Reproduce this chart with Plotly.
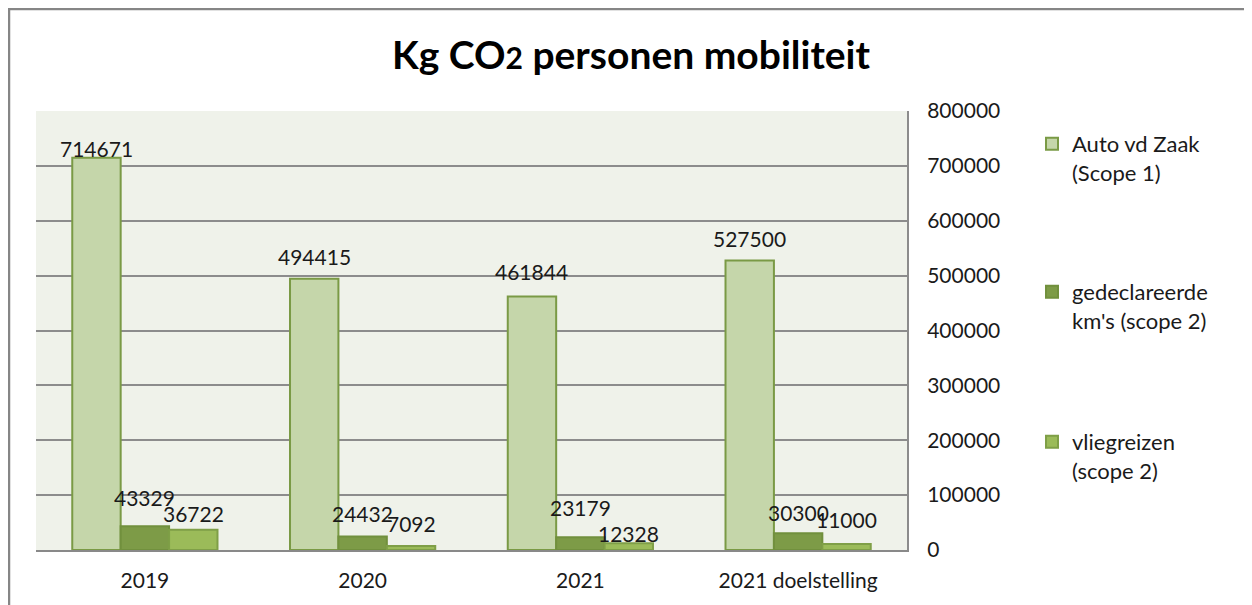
import plotly.graph_objects as go

categories = ["2019", "2020", "2021", "2021 doelstelling"]
auto_vd_zaak = [714671, 494415, 461844, 527500]
gedeclareerde_kms = [43329, 24432, 23179, 30300]
vliegreizen = [36722, 7092, 12328, 11000]
series_names = ["Auto vd Zaak<br>(Scope 1)", "gedeclareerde<br>km's (scope 2)", "vliegreizen<br>(scope 2)"]
y_ticks = [0, 100000, 200000, 300000, 400000, 500000, 600000, 700000, 800000]

FONT = "Lato"
fills = ["#C5D6AA", "#7D9B47", "#9BBB59"]
borders = ["#7A9A45", "#71903D", "#7F9F47"]
legends = ["legend", "legend2", "legend3"]
# style: how far (px) each value label's centre sits above its bar top, per series
label_lift_px = [[9, 22, 25, 22], [29, 23, 30, 21], [16, 23, 10, 24]]

# page offset of the figure (browser body margin)
OFF = 8
W, H = 1252, 605
L, R, T, B = 36 - OFF, 907 - OFF, 111 - OFF, 550 - OFF
pw, ph = R - L, B - T
BARGAP = 0.333
bar_w = pw / len(categories) * (1 - BARGAP) / 3

def px(x):
    return (x - OFF - L) / pw

def py(y):
    return (B - (y - OFF)) / ph

all_series = [auto_vd_zaak, gedeclareerde_kms, vliegreizen]
fig = go.Figure()
annotations = []
for i, (name, vals) in enumerate(zip(series_names, all_series)):
    fig.add_trace(go.Bar(
        x=categories, y=vals, name=name,
        marker=dict(color=fills[i], line=dict(color=borders[i], width=2)),
        legend=legends[i],
    ))
    for j, v in enumerate(vals):
        annotations.append(dict(
            x=j, y=v, xref="x", yref="y", text=str(v), showarrow=False,
            xshift=(i - 1) * bar_w, yshift=label_lift_px[i][j],
            xanchor="center", yanchor="middle",
            font=dict(family=FONT, size=21, color="#1a1a1a"),
        ))

leg_common = dict(font=dict(family=FONT, size=22, color="#1a1a1a"), bgcolor="rgba(0,0,0,0)",
                  xanchor="left", yanchor="top", valign="top", itemwidth=30)
fig.update_layout(
    width=W, height=H,
    margin=dict(l=L, r=W - R, t=T, b=H - B, pad=0),
    paper_bgcolor="white", plot_bgcolor="#EFF2EA",
    barmode="group", bargap=BARGAP, bargroupgap=0,
    title=dict(text='Kg CO<span style="font-size:30px">2</span> personen mobiliteit',
               font=dict(family=FONT, size=39, color="black", weight="bold"),
               x=(631 - OFF) / W, xanchor="center", xref="container",
               y=1 - (55 - OFF) / H, yanchor="middle", yref="container"),
    legend=dict(x=px(1032), y=py(123), **leg_common),
    legend2=dict(x=px(1032), y=py(271), **leg_common),
    legend3=dict(x=px(1032), y=py(421), **leg_common),
    showlegend=True,
    annotations=annotations,
    xaxis=dict(type="category", range=[-0.5, len(categories) - 0.5], autorange=False,
               showgrid=False, showline=True, linecolor="#898989", linewidth=2,
               ticks="", tickfont=dict(family=FONT, size=21, color="#1a1a1a"), ticklabelstandoff=11),
    yaxis=dict(side="right", range=[0, 800000], autorange=False, tickvals=y_ticks, tickformat="d",
               showgrid=True, gridcolor="#8C8C8C", gridwidth=2, zeroline=False,
               showline=True, linecolor="#8C8C8C", linewidth=2, mirror=False,
               ticks="", tickfont=dict(family=FONT, size=21, color="#1a1a1a"), ticklabelstandoff=14),
    shapes=[dict(type="rect", xref="paper", yref="paper",
                 x0=px(9), x1=px(1262), y0=py(615), y1=py(9),
                 line=dict(color="#868686", width=2.5), fillcolor="rgba(0,0,0,0)", layer="below")],
)

fig.write_html("out.html")
